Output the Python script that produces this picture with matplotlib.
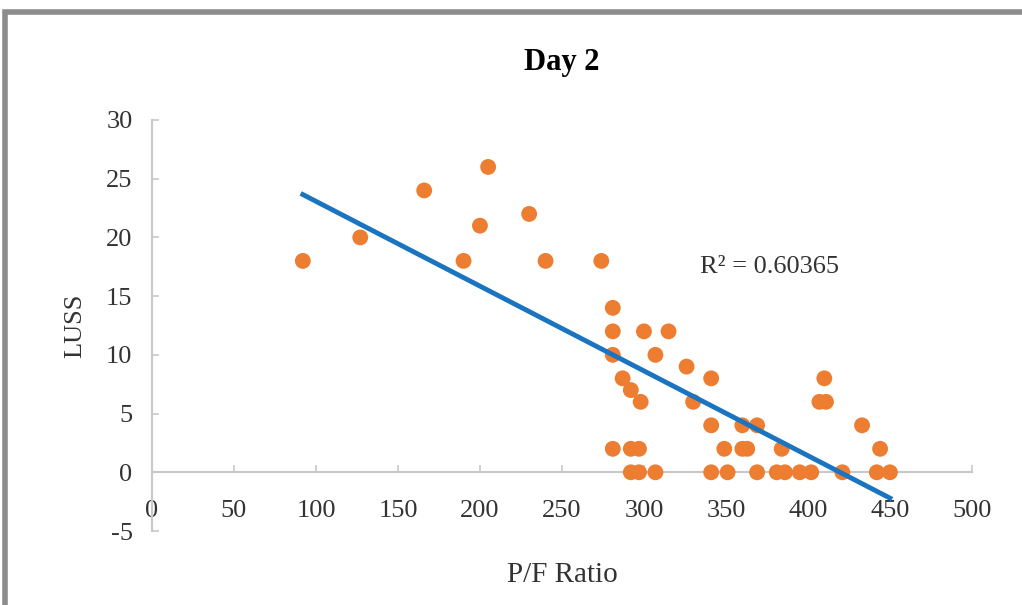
import numpy as np
import matplotlib.pyplot as plt
from matplotlib.patches import Rectangle

# datos
pf_ratio = [92, 127, 166, 190, 200, 205, 230, 240, 274,
            281, 281, 281, 281, 287, 292, 298, 300, 307, 315, 326, 330,
            341, 341, 360, 369, 407, 411, 410, 433,
            292, 297, 349, 360, 363, 384, 444,
            292, 297, 307, 341, 351, 369, 381, 386, 395, 402, 421, 442, 450]
luss = [18, 20, 24, 18, 21, 26, 22, 18, 18,
        14, 12, 10, 2, 8, 7, 6, 12, 10, 12, 9, 6,
        8, 4, 4, 4, 6, 6, 8, 4,
        2, 2, 2, 2, 2, 2, 2,
        0, 0, 0, 0, 0, 0, 0, 0, 0, 0, 0, 0, 0]
r2_text = "R² = 0.60365"
x_ticks = [0, 50, 100, 150, 200, 250, 300, 350, 400, 450, 500]
y_ticks = [-5, 0, 5, 10, 15, 20, 25, 30]

plt.rcParams['font.family'] = ['Liberation Serif', 'DejaVu Serif']
plt.rcParams['axes.unicode_minus'] = False

fig = plt.figure(figsize=(10.22, 6.05), dpi=100)
ax = fig.add_axes([0.1487, 0.1223, 0.8023, 0.6794])

# recta de tendencia
x = np.array(pf_ratio, dtype=float)
y = np.array(luss, dtype=float)
m, b = np.polyfit(x, y, 1)
xl = np.array([x.min(), x.max()])

ax.scatter(x, y, s=130, color='#ED7D31', edgecolors='none', zorder=3)
ax.plot(xl, m * xl + b, color='#1a74bf', lw=3.5, zorder=4)

ax.set_xlim(0, 500)
ax.set_ylim(-5, 30)
ax.set_xticks(x_ticks)
ax.set_yticks(y_ticks)

for s in ['top', 'right']:
    ax.spines[s].set_visible(False)
ax.spines['bottom'].set_position(('data', 0))
ax.spines['bottom'].set_color('#c8c8c8')
ax.spines['left'].set_color('#c8c8c8')
ax.spines['bottom'].set_linewidth(1.5)
ax.spines['left'].set_linewidth(1.5)
ax.tick_params(axis='both', direction='in', color='#c8c8c8', length=5, width=1.2,
               labelsize=19, labelcolor='#333333')
ax.tick_params(axis='x', pad=20)
ax.tick_params(axis='y', pad=14)

ax.set_title('Day 2', fontsize=22, fontweight='bold', pad=36)
ax.set_xlabel('P/F Ratio', fontsize=21, color='#333333')
ax.set_ylabel('LUSS', fontsize=19, color='#333333', labelpad=14)
ax.xaxis.set_label_coords(0.5, -0.075)

ax.text(334, 17, r2_text, fontsize=19, color='#333333')

# marco gris del grafico
fig.patches.append(Rectangle((0.005, -0.05), 1.1, 1.03, transform=fig.transFigure,
                             fill=False, edgecolor='#8c8c8c', lw=4))

fig.savefig('out.png', dpi=100)
